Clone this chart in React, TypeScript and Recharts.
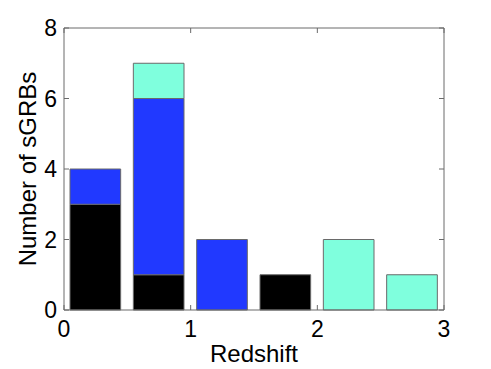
import { BarChart, Bar, XAxis, YAxis } from 'recharts'

// redshift bins of width 0.5, stacked counts per class
const binCenters = [0.25, 0.75, 1.25, 1.75, 2.25, 2.75]
const blackCounts = [3, 1, 0, 1, 0, 0]
const blueCounts = [1, 5, 2, 0, 0, 0]
const cyanCounts = [0, 1, 0, 0, 2, 1]
const xTicks = [0, 1, 2, 3]
const yTicks = [0, 2, 4, 6, 8]

const data = binCenters.map((z, i) => ({
  z,
  black: blackCounts[i],
  blue: blueCounts[i],
  cyan: cyanCounts[i],
}))

const W = 491
const H = 369
const margin = { top: 27, right: 46, bottom: 0, left: 24 }
const yAxisW = 40
const boxAxis = 1
// bar = 80% of the 0.5 bin width
const plotW = W - margin.left - margin.right - yAxisW - boxAxis
const barSize = (plotW / 3) * 0.5 * 0.8

const font = { fontFamily: '"Liberation Sans", Arial, Helvetica, sans-serif', fontSize: 23, fill: '#000' }
const edge = '#6a6a6a'
const blank = () => ''

const YLabel = ({ viewBox }: any) => {
  const cx = viewBox.x + viewBox.width / 2 - 17
  const cy = viewBox.y + viewBox.height / 2
  return (
    <text
      x={cx}
      y={cy}
      transform={`rotate(-90, ${cx}, ${cy})`}
      textAnchor="middle"
      dominantBaseline="central"
      style={{ ...font, fontSize: 24 }}
    >
      Number of sGRBs
    </text>
  )
}

export default function App() {
  return (
    <div style={{ position: 'absolute', left: 0, top: 0, width: W, height: H, background: '#fff' }}>
      <BarChart width={W} height={H} data={data} margin={margin} barSize={barSize}>
        <XAxis
          dataKey="z"
          type="number"
          domain={[0, 3]}
          ticks={xTicks}
          allowDataOverflow
          height={59}
          tickSize={-5}
          tickMargin={16}
          stroke={edge}
          tick={font}
          label={{ value: 'Redshift', position: 'insideBottom', offset: 7, style: { ...font, fontSize: 24 } }}
        />
        <XAxis
          xAxisId="top"
          dataKey="z"
          orientation="top"
          type="number"
          domain={[0, 3]}
          ticks={xTicks}
          allowDataOverflow
          height={boxAxis}
          tickSize={-5}
          tickMargin={0}
          stroke={edge}
          tickFormatter={blank}
        />
        <YAxis
          domain={[0, 8]}
          ticks={yTicks}
          width={yAxisW}
          tickSize={-5}
          tickMargin={12}
          stroke={edge}
          tick={font}
          label={<YLabel />}
        />
        <YAxis
          yAxisId="right"
          orientation="right"
          domain={[0, 8]}
          ticks={yTicks}
          allowDataOverflow
          width={boxAxis}
          tickSize={-5}
          tickMargin={0}
          stroke={edge}
          tickFormatter={blank}
        />
        <Bar dataKey="black" stackId="s" fill="#000000" stroke={edge} isAnimationActive={false} />
        <Bar dataKey="blue" stackId="s" fill="#2139ff" stroke={edge} isAnimationActive={false} />
        <Bar dataKey="cyan" stackId="s" fill="#7fffdd" stroke={edge} isAnimationActive={false} />
        {/* empty series so the box axes (top / right) get drawn */}
        <Bar xAxisId="top" yAxisId="right" dataKey="none" fill="none" isAnimationActive={false} />
      </BarChart>
    </div>
  )
}
